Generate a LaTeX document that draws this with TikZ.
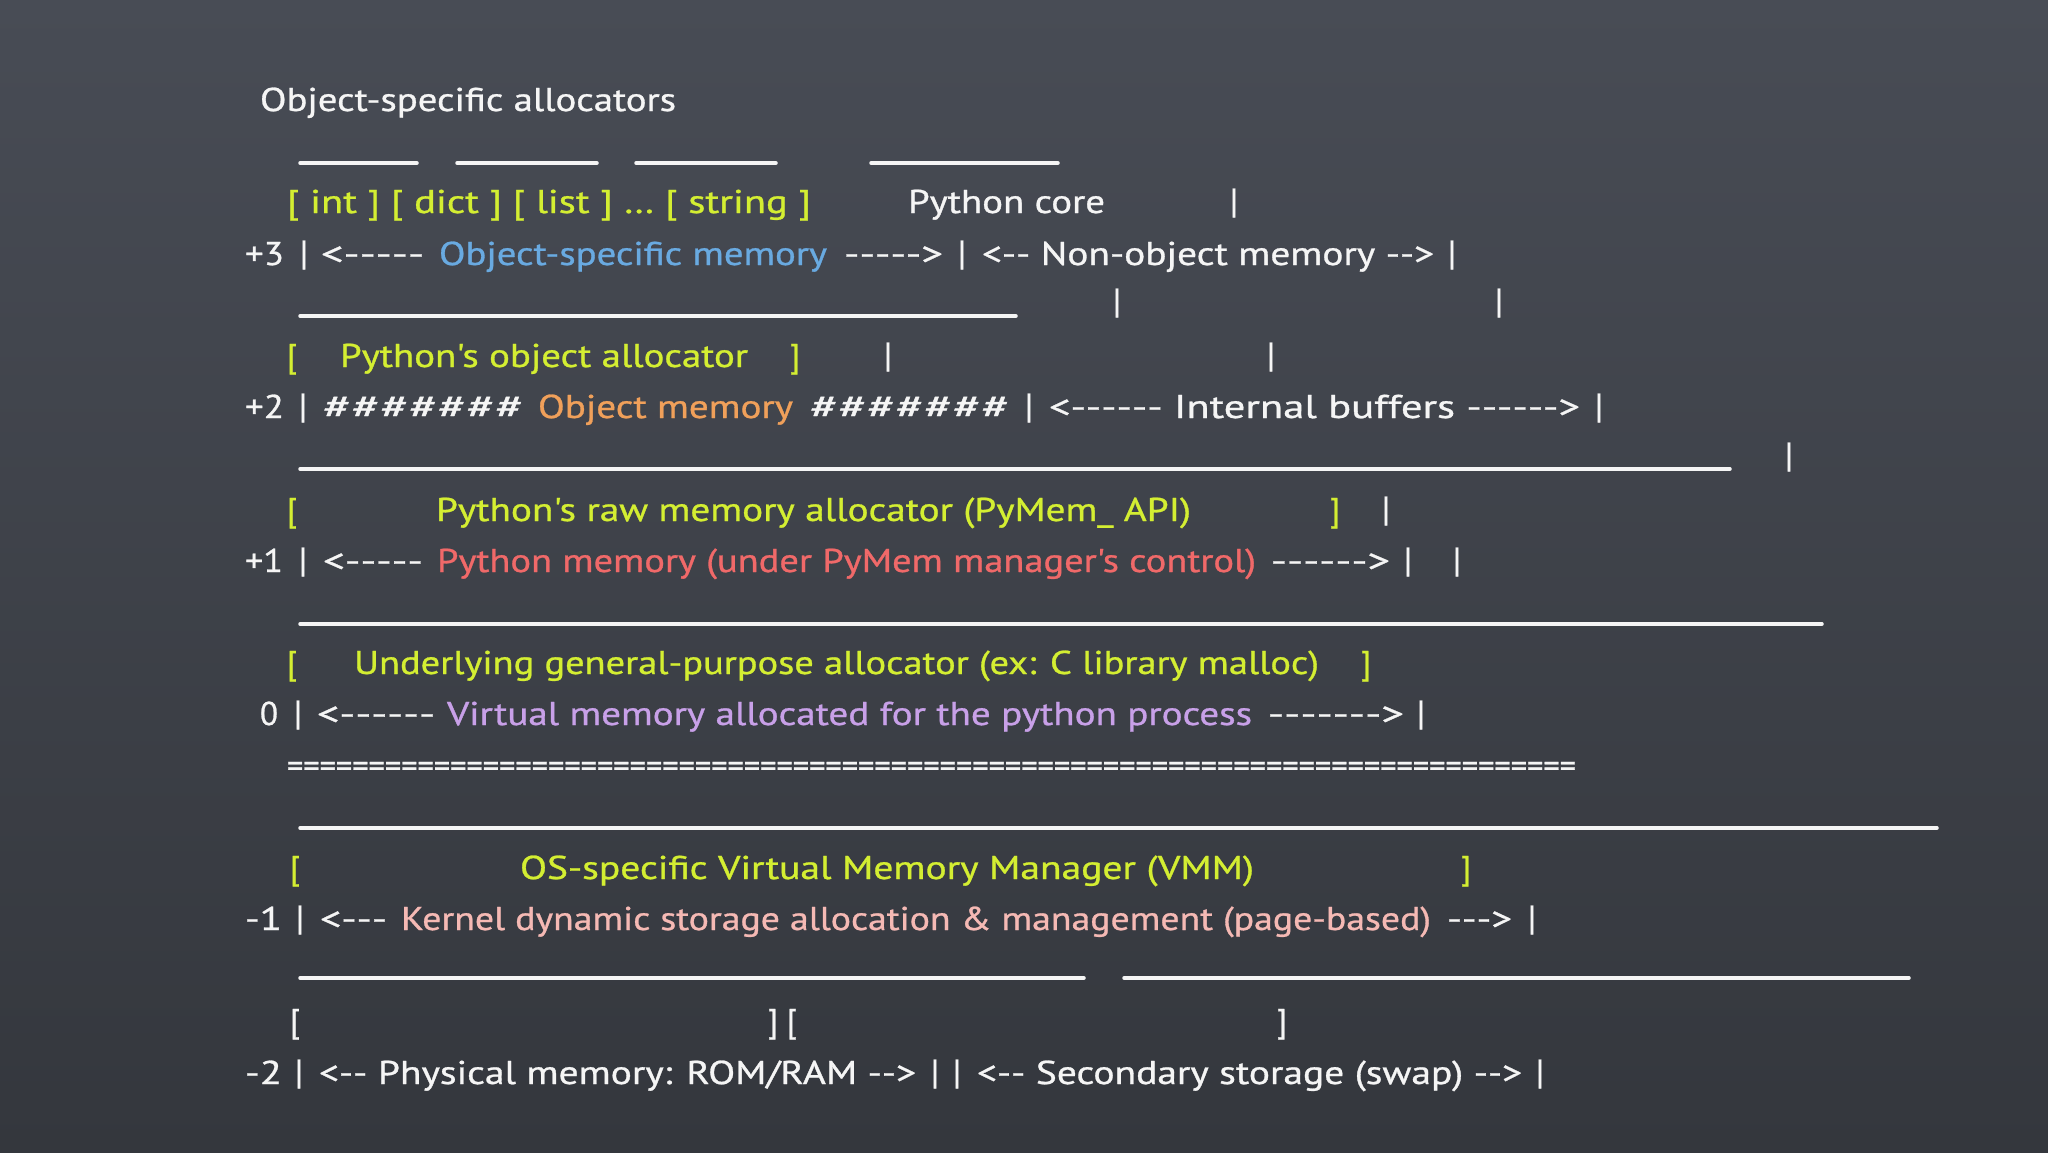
\documentclass[tikz,border=0pt]{standalone}
\usepackage{fontspec}
\usepackage{graphicx}
\newfontfamily\chalk{PT Sans}[Ligatures=TeXOff,FakeBold=0.8]
\definecolor{bgtop}{RGB}{72,76,85}
\definecolor{bgbot}{RGB}{52,55,61}
\definecolor{cwhite}{RGB}{245,245,245}
\definecolor{cyellow}{RGB}{212,238,50}
\definecolor{cblue}{RGB}{105,170,225}
\definecolor{corange}{RGB}{240,160,90}
\definecolor{cred}{RGB}{240,105,105}
\definecolor{cpurple}{RGB}{200,160,232}
\definecolor{cpink}{RGB}{245,185,180}
\newcommand\W[6]{\node[txt,anchor=base west,text=#4] (#1) at (#2,#3) {\resizebox{#5pt}{\height}{#6}};}
\newcommand\N[5]{\node[txt,anchor=base west,text=#4] (#1) at (#2,#3) {#5};}
\newcommand\B[3]{\node[txt,anchor=base,font=\chalk\fontsize{35}{40}\selectfont] (#1) at (#2,#3) {|};}
\begin{document}
\begin{tikzpicture}[x=1pt,y=-1pt,
  txt/.style={inner sep=0pt,outer sep=0pt,font=\chalk\fontsize{33}{39}\selectfont,text=cwhite},
  rule/.style={draw=cwhite,line width=3.5pt,line cap=round}]
\shade[top color=bgtop,bottom color=bgbot] (0,0) rectangle (2048,1152);
\useasboundingbox (0,0) rectangle (2048,1152);
% title
\W{title}{260}{111}{cwhite}{416}{Object-specific allocators}
% underlines
\draw[rule] (300,163) -- (417,163);
\draw[rule] (457,163) -- (597,163);
\draw[rule] (636,163) -- (776,163);
\draw[rule] (871,163) -- (1058,163);
% row +3 header
\W{types}{287}{213}{cyellow}{524}{[ int ] [ dict ] [ list ] … [ string ]}
\W{core}{908}{213}{cwhite}{197}{Python core}
\B{b3a}{1234}{213}
% row +3
\W{l3}{245}{265}{cwhite}{39}{+3}
\B{b4a}{304}{265}
\W{a4a}{321}{265}{cwhite}{103}{<-----}
\W{osm}{439}{265}{cblue}{388}{Object-specific memory}
\W{a4b}{844}{265}{cwhite}{99}{----->}
\B{b4b}{962}{265}
\W{nom}{982}{265}{cwhite}{452}{<-- Non-object memory -->}
\B{b4c}{1452}{265}
% line
\draw[rule] (300,316) -- (1016,316);
\B{b5a}{1117}{313}
\B{b5b}{1499}{313}
% row +2 header
\N{o1}{287}{367}{cyellow}{[}
\W{poa}{340}{367}{cyellow}{408}{Python's object allocator}
\N{o2}{790}{367}{cyellow}{]}
\B{b6a}{888}{367}
\B{b6b}{1271}{367}
% row +2
\W{l2}{245}{418}{cwhite}{39}{+2}
\B{b7a}{303}{418}
\W{h1}{323}{418}{cwhite}{201}{\#\#\#\#\#\#\#}
\W{om}{538}{418}{corange}{255}{Object memory}
\W{h2}{810}{418}{cwhite}{200}{\#\#\#\#\#\#\#}
\B{b7b}{1029}{418}
\W{ib}{1049}{418}{cwhite}{531}{<------ Internal buffers ------>}
\B{b7c}{1599}{418}
% line
\draw[rule] (300,469) -- (1730,469);
\B{b8}{1789}{467}
% row +1 header
\N{r1}{287}{521}{cyellow}{[}
\W{raw}{436}{521}{cyellow}{755}{Python's raw memory allocator (PyMem\_ API)}
\N{r2}{1330}{521}{cyellow}{]}
\B{b9}{1386}{521}
% row +1
\W{l1}{245}{572}{cwhite}{38}{+1}
\B{b10a}{303}{572}
\W{a10a}{323}{572}{cwhite}{100}{<-----}
\W{pm}{437}{572}{cred}{819}{Python memory (under PyMem manager's control)}
\W{a10b}{1271}{572}{cwhite}{119}{------>}
\B{b10b}{1408}{572}
\B{b10c}{1457}{572}
% line
\draw[rule] (300,624) -- (1822,624);
% row 0 header
\N{u1}{287}{674}{cyellow}{[}
\W{ug}{354}{674}{cyellow}{965}{Underlying general-purpose allocator (ex: C library malloc)}
\N{u2}{1361}{674}{cyellow}{]}
% row 0
\N{l0}{260}{725}{cwhite}{0}
\B{b13a}{298}{725}
\W{a13a}{317}{725}{cwhite}{118}{<------}
\W{vm}{447}{725}{cpurple}{805}{Virtual memory allocated for the python process}
\W{a13b}{1268}{725}{cwhite}{136}{------->}
\B{b13b}{1421}{725}
% equals row
\W{eq}{287}{777}{cwhite}{1289}{===============================================================================}
% line
\draw[rule] (300,828) -- (1937,828);
% row -1 header
\N{v1}{290}{879}{cyellow}{[}
\W{vmm}{520}{879}{cyellow}{734}{OS-specific Virtual Memory Manager (VMM)}
\N{v2}{1461}{879}{cyellow}{]}
% row -1
\W{lm1}{245}{930}{cwhite}{37}{-1}
\B{b17a}{300}{930}
\W{a17a}{320}{930}{cwhite}{67}{<---}
\W{kd}{401}{930}{cpink}{1030}{Kernel dynamic storage allocation \& management (page-based)}
\W{a17b}{1447}{930}{cwhite}{65}{--->}
\B{b17b}{1532}{930}
% lines
\draw[rule] (300,978) -- (1084,978);
\draw[rule] (1124,978) -- (1909,978);
% row -2 header
\N{p1}{290}{1032}{cwhite}{[}
\N{p2}{768}{1032}{cwhite}{] [}
\N{p3}{1277}{1032}{cwhite}{]}
% row -2
\W{lm2}{245}{1084}{cwhite}{37}{-2}
\B{b20a}{299}{1084}
\W{pmr}{319}{1084}{cwhite}{597}{<-- Physical memory: ROM/RAM -->}
\B{b20b}{935}{1084}
\B{b20c}{957}{1084}
\W{ss}{977}{1084}{cwhite}{545}{<-- Secondary storage (swap) -->}
\B{b20d}{1540}{1084}
\end{tikzpicture}
\end{document}
